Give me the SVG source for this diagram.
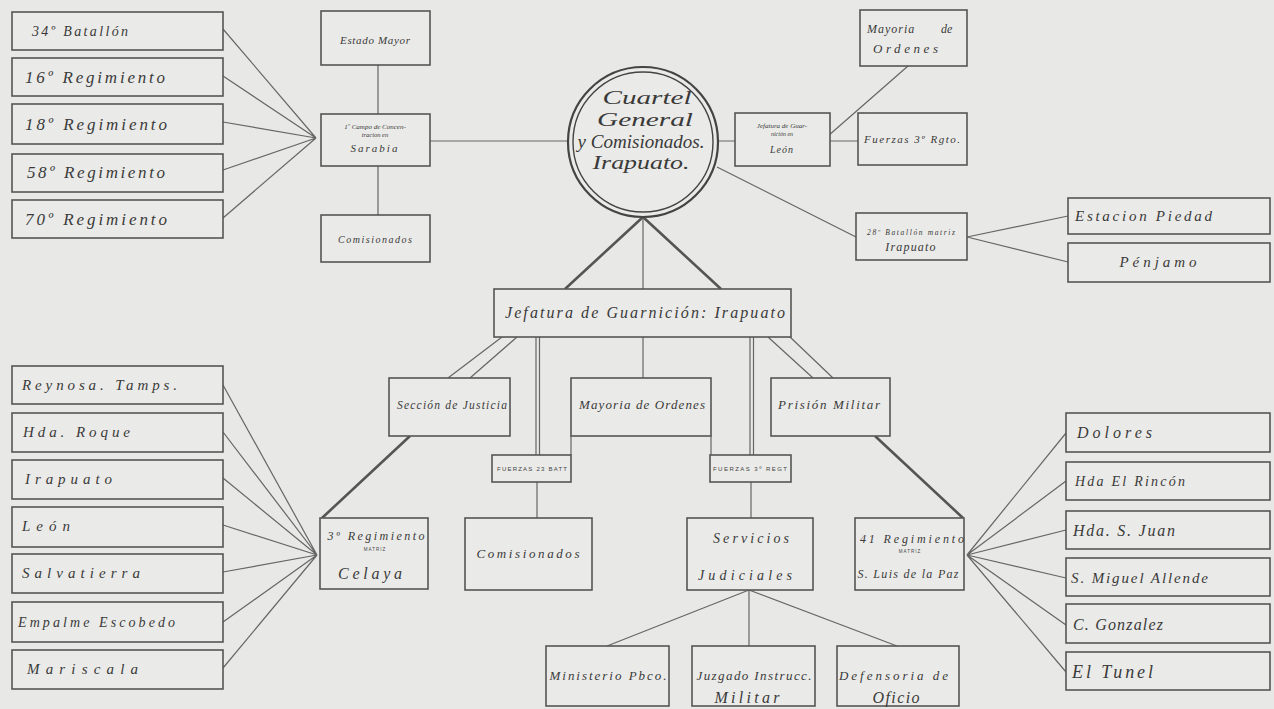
<svg xmlns="http://www.w3.org/2000/svg" width="1274" height="709" viewBox="0 0 1274 709">
<style>
.bx{fill:#eaeae8;stroke:#555;stroke-width:1.6}
.t{font-family:"Liberation Serif","DejaVu Serif",serif;font-style:italic;fill:#3a3a3a}
.c{text-anchor:middle}
.ln{stroke:#666;stroke-width:1.2;fill:none}
.tk{stroke:#555;stroke-width:2.6;fill:none}
.sm{font-family:"Liberation Sans","DejaVu Sans",sans-serif;font-style:normal;fill:#444}
</style>
<rect width="1274" height="709" fill="#e8e8e6"/>
<g id="connectors">
<path class="ln" d="M223 29L316 138M223 76L316 138M223 122L316 138M223 170L316 138M223 218L316 138"/>
<path class="ln" d="M378 65V114M378 166V215M430 141H568M718 141H735M830 141H858M828 136L908 66M717 167L856 237M967 237L1068 216M967 237L1068 262"/>
<path class="tk" d="M643 217L565 289M643 217L721 289"/>
<path class="ln" d="M643 217V289"/>
<path class="ln" d="M502 337L448 378M517 337L470 378M768 337L813 378M790 337L833 378"/>
<path class="ln" d="M536 337V455M539.5 337V455M750 337V455M753.5 337V455M643 337V378M571 436V455M711 436V455"/>
<path class="ln" d="M537 482V518M751 482V518" stroke-width="2"/>
<path class="tk" d="M410 436L322 518M875 436L963 518"/>
<path class="ln" d="M223 385L317 555M223 432L317 555M223 478L317 555M223 525L317 555M223 572L317 555M223 622L317 555M223 668L317 555"/>
<path class="ln" d="M967 555L1066 433M967 555L1066 481M967 555L1066 530M967 555L1066 578M967 555L1066 625M967 555L1066 672"/>
<path class="ln" d="M749 590L607 646M749 590V646M749 590L897 646"/>
</g>
<g id="n-34bat"><rect class="bx" x="12" y="12" width="211" height="38"/><text class="t" x="32" y="36" font-size="14" textLength="96" lengthAdjust="spacing">34º Batallón</text></g>
<g id="n-16reg"><rect class="bx" x="12" y="58" width="211" height="38"/><text class="t" x="25" y="83" font-size="17" textLength="140" lengthAdjust="spacing">16º Regimiento</text></g>
<g id="n-18reg"><rect class="bx" x="12" y="104" width="211" height="40"/><text class="t" x="25" y="130" font-size="17" textLength="142" lengthAdjust="spacing">18º Regimiento</text></g>
<g id="n-58reg"><rect class="bx" x="12" y="154" width="211" height="38"/><text class="t" x="27" y="178" font-size="17" textLength="138" lengthAdjust="spacing">58º Regimiento</text></g>
<g id="n-70reg"><rect class="bx" x="12" y="200" width="211" height="38"/><text class="t" x="25" y="225" font-size="17" textLength="142" lengthAdjust="spacing">70º Regimiento</text></g>
<g id="n-estado-mayor"><rect class="bx" x="321" y="11" width="109" height="54"/><text class="t c" x="375" y="44" font-size="11" textLength="70" lengthAdjust="spacing">Estado Mayor</text></g>
<g id="n-campo"><rect class="bx" x="321" y="114" width="109" height="52"/><text class="t c" x="375" y="129" font-size="7">1º Campo de Concen-</text><text class="t c" x="375" y="137" font-size="6.5">tracion en</text><text class="t c" x="375" y="152" font-size="11" letter-spacing="2">Sarabia</text></g>
<g id="n-comis-top"><rect class="bx" x="321" y="215" width="109" height="47"/><text class="t c" x="375" y="243" font-size="10" textLength="74" lengthAdjust="spacing">Comisionados</text></g>
<g id="n-cuartel"><circle cx="643" cy="142" r="75" fill="#eaeae8" stroke="#444" stroke-width="2.2"/><circle cx="643" cy="142" r="70" fill="none" stroke="#444" stroke-width="1.4"/>
<text class="t c" x="647" y="104" font-size="19" textLength="89" lengthAdjust="spacingAndGlyphs">Cuartel</text>
<text class="t c" x="645" y="126" font-size="19" textLength="96" lengthAdjust="spacingAndGlyphs">General</text>
<text class="t c" x="641" y="148" font-size="18" textLength="127" lengthAdjust="spacingAndGlyphs">y Comisionados.</text>
<text class="t c" x="641" y="169" font-size="19" textLength="97" lengthAdjust="spacingAndGlyphs">Irapuato.</text></g>
<g id="n-jef-leon"><rect class="bx" x="735" y="113" width="95" height="53"/><text class="t c" x="782" y="128" font-size="7">Jefatura de Guar-</text><text class="t c" x="782" y="136" font-size="6">nición en</text><text class="t c" x="782" y="153" font-size="10" letter-spacing="1">León</text></g>
<g id="n-mayoria-top"><rect class="bx" x="860" y="10" width="107" height="56"/><text class="t" x="867" y="33" font-size="12" letter-spacing="1">Mayoria</text><text class="t" x="941" y="33" font-size="12">de</text><text class="t" x="873" y="53" font-size="13" textLength="65" lengthAdjust="spacing">Ordenes</text></g>
<g id="n-fuerzas-3rgto"><rect class="bx" x="858" y="113" width="109" height="52"/><text class="t c" x="912" y="143" font-size="11" textLength="96" lengthAdjust="spacing">Fuerzas 3º Rgto.</text></g>
<g id="n-28bat"><rect class="bx" x="856" y="213" width="111" height="47"/><text class="t c" x="911" y="235" font-size="7.5" textLength="88" lengthAdjust="spacing">28º Batallón matriz</text><text class="t c" x="911" y="251" font-size="12" letter-spacing="1.2">Irapuato</text></g>
<g id="n-piedad"><rect class="bx" x="1068" y="198" width="202" height="36"/><text class="t" x="1075" y="221" font-size="15" textLength="137" lengthAdjust="spacing">Estacion Piedad</text></g>
<g id="n-penjamo"><rect class="bx" x="1068" y="243" width="202" height="39"/><text class="t c" x="1158" y="267" font-size="15" textLength="77" lengthAdjust="spacing">Pénjamo</text></g>
<g id="n-jef-irapuato"><rect class="bx" x="494" y="289" width="297" height="48"/><text class="t c" x="645" y="318" font-size="16" textLength="280" lengthAdjust="spacing">Jefatura de Guarnición: Irapuato</text></g>
<g id="n-seccion"><rect class="bx" x="389" y="378" width="121" height="58"/><text class="t c" x="452" y="409" font-size="11.5" textLength="110" lengthAdjust="spacing">Sección de Justicia</text></g>
<g id="n-mayoria-mid"><rect class="bx" x="571" y="378" width="140" height="58"/><text class="t c" x="642" y="409" font-size="13" textLength="126" lengthAdjust="spacing">Mayoria de Ordenes</text></g>
<g id="n-prision"><rect class="bx" x="771" y="378" width="119" height="58"/><text class="t c" x="829" y="409" font-size="13" textLength="102" lengthAdjust="spacing">Prisión Militar</text></g>
<g id="n-fuerzas-23"><rect class="bx" x="492" y="455" width="79" height="27"/><text class="sm c" x="532" y="471" font-size="6" textLength="70" lengthAdjust="spacing">FUERZAS 23 BATT</text></g>
<g id="n-fuerzas-3regt"><rect class="bx" x="710" y="455" width="81" height="27"/><text class="sm c" x="750" y="471" font-size="6" textLength="74" lengthAdjust="spacing">FUERZAS 3º REGT</text></g>
<g id="n-3reg"><rect class="bx" x="320" y="518" width="108" height="71"/><text class="t c" x="376" y="540" font-size="12" textLength="97" lengthAdjust="spacing">3º Regimiento</text><text class="sm c" x="375" y="551" font-size="4.5" letter-spacing="1">MATRIZ</text><text class="t c" x="370" y="579" font-size="16" textLength="64" lengthAdjust="spacing">Celaya</text></g>
<g id="n-comis-mid"><rect class="bx" x="465" y="518" width="127" height="72"/><text class="t c" x="528" y="558" font-size="13" textLength="103" lengthAdjust="spacing">Comisionados</text></g>
<g id="n-servicios"><rect class="bx" x="687" y="518" width="126" height="72"/><text class="t c" x="751" y="543" font-size="14" textLength="76" lengthAdjust="spacing">Servicios</text><text class="t c" x="745" y="580" font-size="14" textLength="94" lengthAdjust="spacing">Judiciales</text></g>
<g id="n-41reg"><rect class="bx" x="855" y="518" width="109" height="72"/><text class="t c" x="912" y="543" font-size="12" textLength="104" lengthAdjust="spacing">41 Regimiento</text><text class="sm c" x="910" y="553" font-size="4.5" letter-spacing="1">MATRIZ</text><text class="t c" x="908" y="578" font-size="12" textLength="101" lengthAdjust="spacing">S. Luis de la Paz</text></g>
<g id="n-ministerio"><rect class="bx" x="546" y="646" width="123" height="60"/><text class="t c" x="608" y="680" font-size="13" textLength="117" lengthAdjust="spacing">Ministerio Pbco.</text></g>
<g id="n-juzgado"><rect class="bx" x="692" y="646" width="123" height="60"/><text class="t c" x="754" y="680" font-size="13" textLength="115" lengthAdjust="spacing">Juzgado Instrucc.</text><text class="t c" x="747" y="703" font-size="16" textLength="65" lengthAdjust="spacing">Militar</text></g>
<g id="n-defensoria"><rect class="bx" x="837" y="646" width="122" height="60"/><text class="t" x="839" y="680" font-size="13" textLength="109" lengthAdjust="spacing">Defensoria  de</text><text class="t c" x="896" y="703" font-size="16" textLength="47" lengthAdjust="spacing">Oficio</text></g>
<g id="n-reynosa"><rect class="bx" x="12" y="366" width="211" height="38"/><text class="t" x="22" y="390" font-size="15" textLength="155" lengthAdjust="spacing">Reynosa. Tamps.</text></g>
<g id="n-roque"><rect class="bx" x="12" y="413" width="211" height="39"/><text class="t" x="23" y="437" font-size="15" textLength="107" lengthAdjust="spacing">Hda. Roque</text></g>
<g id="n-irapuato"><rect class="bx" x="12" y="460" width="211" height="39"/><text class="t" x="25" y="484" font-size="15" textLength="87" lengthAdjust="spacing">Irapuato</text></g>
<g id="n-leon"><rect class="bx" x="12" y="507" width="211" height="40"/><text class="t" x="22" y="531" font-size="15" textLength="48" lengthAdjust="spacing">León</text></g>
<g id="n-salvatierra"><rect class="bx" x="12" y="554" width="211" height="39"/><text class="t" x="22" y="578" font-size="15" textLength="118" lengthAdjust="spacing">Salvatierra</text></g>
<g id="n-empalme"><rect class="bx" x="12" y="602" width="211" height="40"/><text class="t" x="18" y="627" font-size="14" textLength="157" lengthAdjust="spacing">Empalme Escobedo</text></g>
<g id="n-mariscala"><rect class="bx" x="12" y="650" width="211" height="39"/><text class="t" x="27" y="674" font-size="15" textLength="111" lengthAdjust="spacing">Mariscala</text></g>
<g id="n-dolores"><rect class="bx" x="1066" y="413" width="204" height="39"/><text class="t" x="1077" y="438" font-size="16" textLength="75" lengthAdjust="spacing">Dolores</text></g>
<g id="n-rincon"><rect class="bx" x="1066" y="462" width="204" height="38"/><text class="t" x="1075" y="486" font-size="14" textLength="110" lengthAdjust="spacing">Hda El Rincón</text></g>
<g id="n-sjuan"><rect class="bx" x="1066" y="511" width="204" height="38"/><text class="t" x="1073" y="536" font-size="16" textLength="102" lengthAdjust="spacing">Hda. S. Juan</text></g>
<g id="n-allende"><rect class="bx" x="1066" y="558" width="204" height="38"/><text class="t" x="1071" y="583" font-size="15" textLength="137" lengthAdjust="spacing">S. Miguel Allende</text></g>
<g id="n-gonzalez"><rect class="bx" x="1066" y="604" width="204" height="39"/><text class="t" x="1073" y="630" font-size="16" textLength="90" lengthAdjust="spacing">C. Gonzalez</text></g>
<g id="n-tunel"><rect class="bx" x="1066" y="652" width="204" height="38"/><text class="t" x="1072" y="678" font-size="18" textLength="81" lengthAdjust="spacing">El Tunel</text></g>
</svg>
